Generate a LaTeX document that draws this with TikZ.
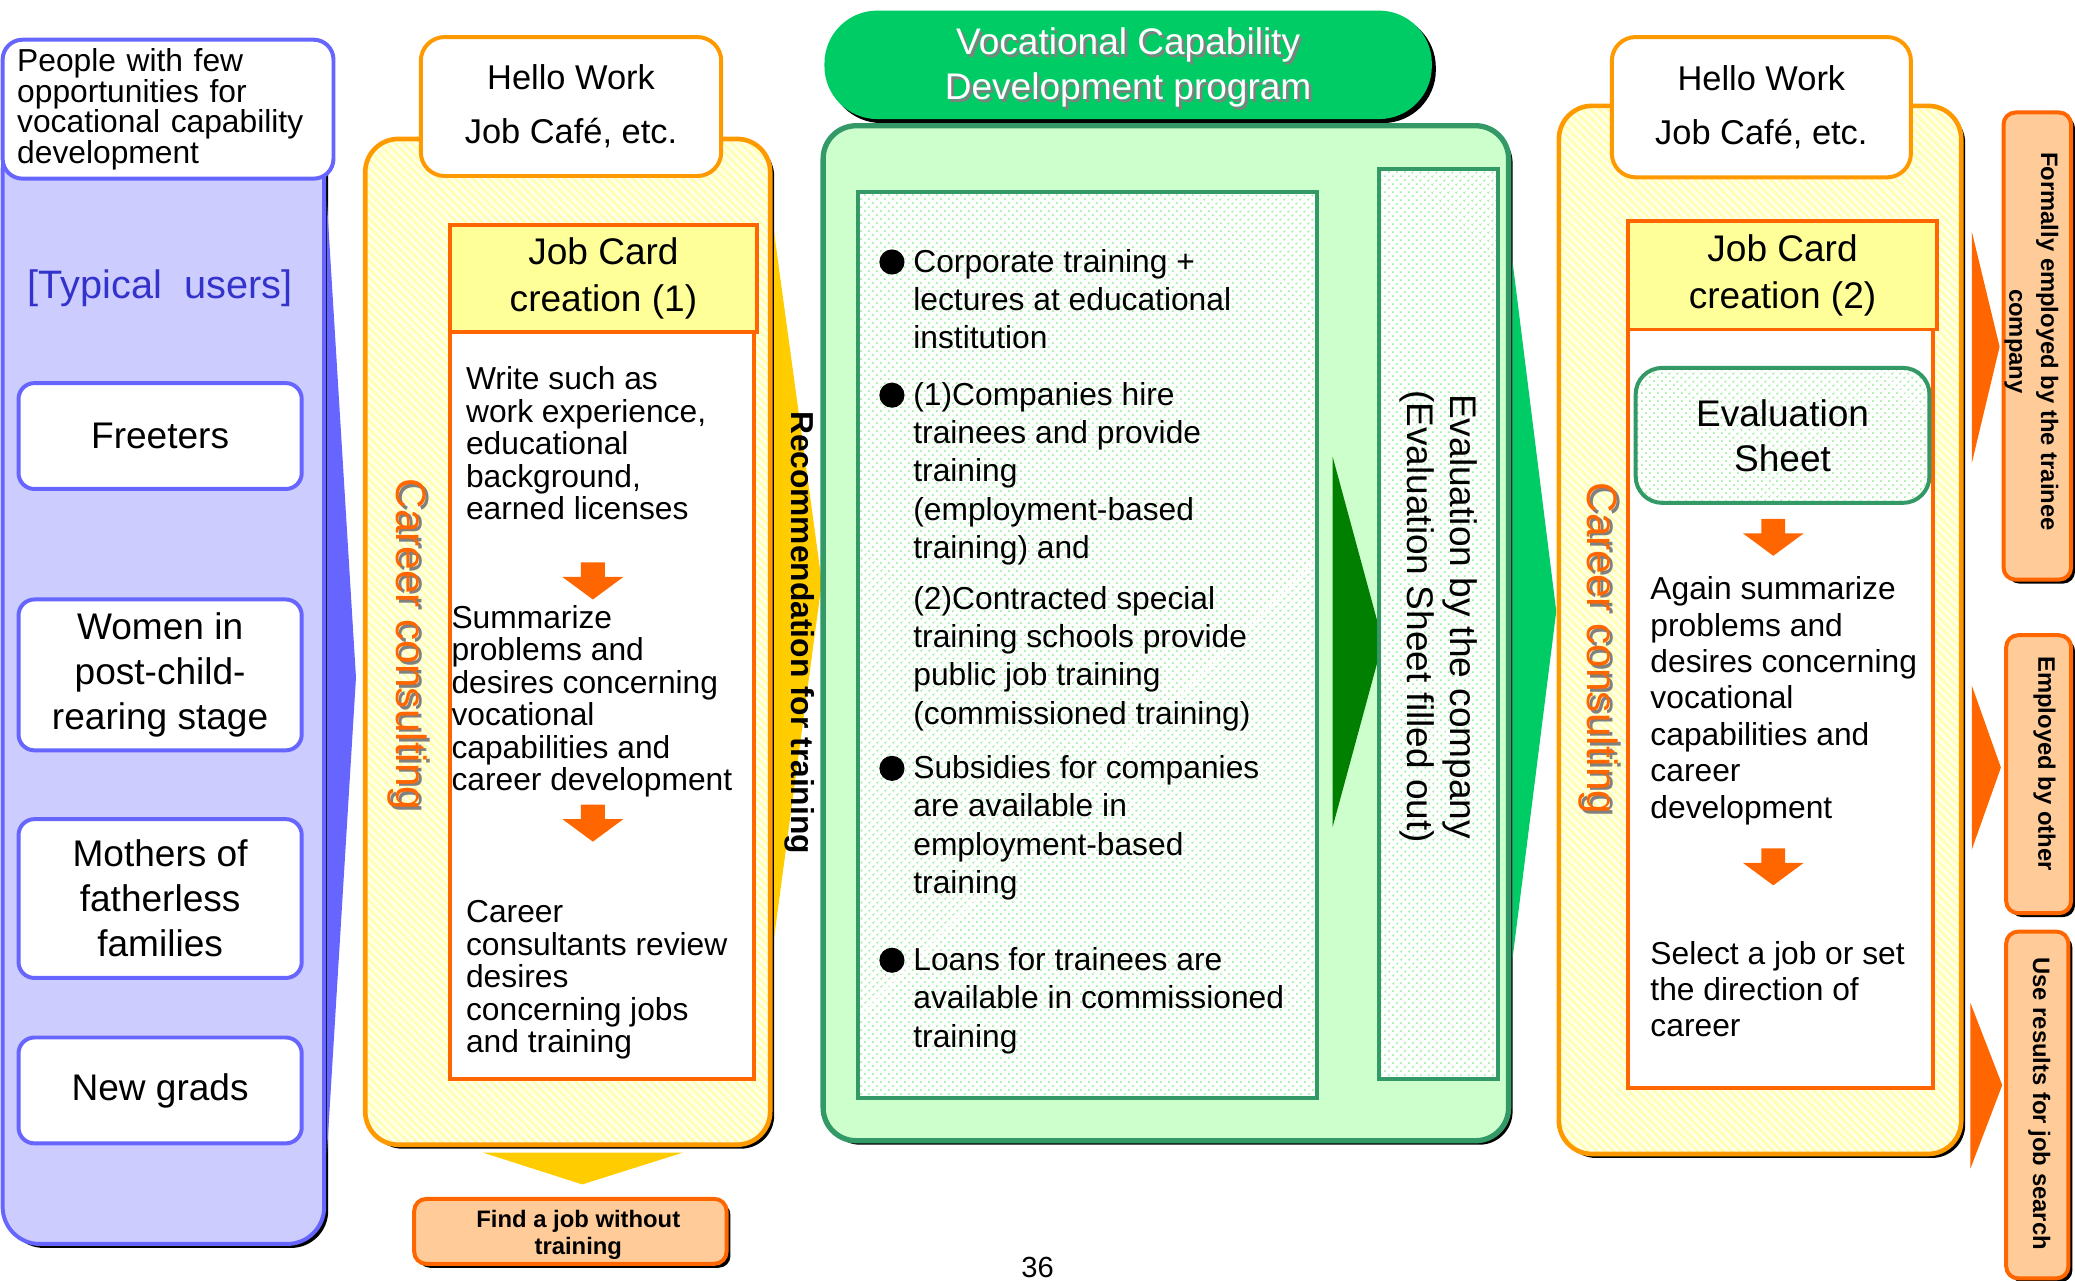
\documentclass[tikz,border=0pt]{standalone}
\usepackage{fontspec}
\setmainfont{Liberation Sans}
\usepackage{tikz}
\usetikzlibrary{shadows,patterns.meta}

\definecolor{bluefill}{HTML}{CCCCFF}
\definecolor{blueline}{HTML}{6666FF}
\definecolor{typblue}{HTML}{3333CC}
\definecolor{orline}{HTML}{FF9900}
\definecolor{cardline}{HTML}{FF6600}
\definecolor{cardfill}{HTML}{FFFF99}
\definecolor{hatchbase}{HTML}{FFFFE8}
\definecolor{hatchline}{HTML}{FFFFAA}
\definecolor{pillgreen}{HTML}{00CC66}
\definecolor{panelgreen}{HTML}{CCFFCC}
\definecolor{greenline}{HTML}{339966}
\definecolor{darkwedge}{HTML}{007F00}
\definecolor{dotgreen}{HTML}{99F099}
\definecolor{wedgeyellow}{HTML}{FFCC00}
\definecolor{peach}{HTML}{FFCC99}

\newcommand{\fs}[2]{\fontsize{#1}{#2}\selectfont}

\begin{document}
\begin{tikzpicture}[
  x=1pt, y=-1pt,
  castshadow/.style={drop shadow={shadow xshift=3pt,shadow yshift=-3pt,fill=black,opacity=1}},
  bluepanel/.style={castshadow, fill=bluefill, draw=blueline, line width=3pt, rounded corners=28pt},
  userbox/.style={draw=blueline, fill=white, line width=3pt, rounded corners=12pt,
    minimum width=214pt, inner sep=0pt, align=center, font=\fs{28}{34}},
  hatchpanel/.style={castshadow, preaction={fill=hatchbase},
    pattern={Lines[angle=-45,distance=4.5pt,line width=1.6pt]}, pattern color=hatchline,
    draw=orline, line width=3.5pt, rounded corners=25pt},
  hellobox/.style={draw=orline, fill=white, line width=3pt, rounded corners=18pt,
    inner sep=0pt, align=center, font=\fs{26}{41}},
  cardhead/.style={draw=cardline, fill=cardfill, line width=3pt, inner sep=0pt,
    align=center, font=\fs{28}{35}},
  cardbody/.style={draw=cardline, fill=white, line width=3pt},
  steptext/.style={anchor=west, align=left, inner sep=0pt},
  consult/.style={rotate=-90, text=cardline, font=\fs{32}{32}},
  dotfill/.style={preaction={fill=white},
    pattern={Dots[distance=4pt,radius=0.9pt,angle=45]}, pattern color=dotgreen},
  bullettext/.style={anchor=west, align=left, inner sep=0pt, font=\fs{24}{29}},
  resultbox/.style={castshadow, draw=cardline, fill=peach, line width=3pt,
    rounded corners=9pt, inner sep=0pt},
  resulttext/.style={rotate=-90, align=center, inner sep=0pt, font=\bfseries\fs{18}{24}},
  downarrow/.pic={\fill[cardline] (-9,0) -- (9,0) -- (9,11) -- (23,11) -- (0,28)
    -- (-23,11) -- (-9,11) -- cycle;}
]
\useasboundingbox (0,0) rectangle (1568,968);

% typical users
\draw[bluepanel] (2,100) rectangle (245,940);
\fill[blueline] (247,152) -- (269,512) -- (247,872) -- cycle;
\node[draw=blueline, fill=white, line width=3pt, rounded corners=15pt,
  minimum width=250pt, minimum height=105pt, inner sep=0pt,
  text width=228pt, align=left, font=\fs{24}{23}] (people) at (127,82.5)
  {People with few\\opportunities for\\vocational capability\\development};
\node[text=typblue, font=\fs{30}{30}] (typical) at (121,218) {[Typical\ \ users]};
\foreach \nm/\cy/\bh/\txt in {
  freeters/329.5/80/Freeters,
  women/510/114/{Women in\\post-child-\\rearing stage},
  mothers/679/120/{Mothers of\\fatherless\\families},
  newgrads/824/80/New grads}
  \node[userbox, minimum height=\bh pt] (\nm) at (121,\cy) {\txt};

% career consulting (1)
\draw[hatchpanel] (276,105) rectangle (582,865);
\node[hellobox, minimum width=227pt, minimum height=105pt] (hello1) at (431.5,80.5)
  {Hello Work\\Job Café, etc.};
\draw[cardbody] (340,251) rectangle (570,815);
\node[cardhead, minimum width=232pt, minimum height=81pt] (card1) at (456,210.5)
  {\raisebox{-3pt}{Job Card}\\\raisebox{-3pt}{creation (1)}};
\node[steptext, font=\fs{24}{24.5}] (write) at (352,335)
  {Write such as\\work experience,\\educational\\background,\\earned licenses};
\node[steptext, font=\fs{24}{24.5}] (summ1) at (341,530)
  {Summarize\\problems and\\desires concerning\\vocational\\capabilities and\\career development};
\node[steptext, font=\fs{24}{24.5}] (review) at (352,740.5)
  {Career\\consultants review\\desires\\concerning jobs\\and training};
\node[consult, text=gray] (consult1shade) at (310,489) {Career consulting};
\node[consult] (consult1) at (308,487) {Career consulting};

\fill[wedgeyellow] (585,176) -- (621,440) -- (585,708) -- cycle;
\node[rotate=-90, font=\bfseries\fs{24}{24}] (recommend) at (604,478)
  {Recommendation for training};
\fill[wedgeyellow] (365,871) -- (516,871) -- (440,895) -- cycle;
\node[resultbox, minimum width=236pt, minimum height=49pt] (nojob) at (431,930.5) {};
\node[align=center, inner sep=0pt, font=\bfseries\fs{18}{20}] (nojobtext) at (437,933)
  {Find a job without\\training};

% training program
\node[castshadow, fill=pillgreen, rounded corners=40pt, minimum width=459pt,
  minimum height=82pt] (pill) at (852.5,49) {};
\node[align=center, text=gray, font=\fs{28}{34}] (pillshade) at (854.5,53)
  {Vocational Capability\\Development program};
\node[align=center, text=white, font=\fs{28}{34}] (pilltext) at (852.5,51)
  {Vocational Capability\\Development program};
\draw[castshadow, fill=panelgreen, draw=greenline, line width=4pt, rounded corners=25pt]
  (622,95) rectangle (1140,862);
\draw[dotfill, draw=greenline, line width=3pt] (648,145) rectangle (995,830);
\foreach \nm/\ty/\txt in {
  corp/226/{Corporate training +\\lectures at educational\\institution},
  hire/358/{(1)Companies hire\\trainees and provide\\training\\(employment-based\\training) and},
  subsidy/625.5/{Subsidies for companies\\are available in\\employment-based\\training},
  loans/756/{Loans for trainees are\\available in commissioned\\training}}
  {
  \node[bullettext] (\nm) at (690,\ty) {\txt};
  \fill ([xshift=-16pt,yshift=-10pt]\nm.north west) circle[radius=9.5pt];
  }
\node[bullettext] (contract) at (690,497.5)
  {(2)Contracted special\\training schools provide\\public job training\\(commissioned training)};
\fill[darkwedge] (1007,345) -- (1045,485) -- (1007,625) -- cycle;
\draw[dotfill, draw=greenline, line width=3pt] (1042,128) rectangle (1132,815);
\node[rotate=-90, align=center, font=\fs{28}{33}] (evalcompany) at (1087,466)
  {Evaluation by the company\\(Evaluation Sheet filled out)};
\fill[pillgreen] (1143,198) -- (1176,462) -- (1143,724) -- cycle;

% career consulting (2)
\draw[hatchpanel] (1178,80) rectangle (1482,872);
\node[hellobox, minimum width=226pt, minimum height=106pt] (hello2) at (1331,81)
  {Hello Work\\Job Café, etc.};
\draw[cardbody] (1230,249) rectangle (1461,822);
\node[cardhead, minimum width=234pt, minimum height=82pt] (card2) at (1347,208)
  {Job Card\\creation (2)};
\node[dotfill, draw=greenline, line width=3pt, rounded corners=20pt,
  minimum width=222pt, minimum height=102pt, inner sep=0pt, align=center,
  font=\fs{28}{34}] (evalsheet) at (1347,329) {Evaluation\\Sheet};
\node[steptext, font=\fs{24}{27.5}] (summ2) at (1247,529.5)
  {Again summarize\\problems and\\desires concerning\\vocational\\capabilities and\\career\\development};
\node[steptext, font=\fs{24}{27.5}] (select) at (1247,747.5)
  {Select a job or set\\the direction of\\career};
\node[consult, text=gray] (consult2shade) at (1210,492) {Career consulting};
\node[consult] (consult2) at (1208,490) {Career consulting};
\foreach \ax/\ay in {448/425, 448/608, 1340/392, 1340/641}
  \pic at (\ax,\ay) {downarrow};

% results
\fill[cardline] (1490,175) -- (1511,262) -- (1490,350) -- cycle;
\fill[cardline] (1490,518) -- (1512,580) -- (1490,642) -- cycle;
\fill[cardline] (1489,758) -- (1513,820) -- (1489,883) -- cycle;
\node[resultbox, minimum width=51pt, minimum height=353pt] (formal) at (1539.5,261.5) {};
\node[resultbox, minimum width=49pt, minimum height=210pt] (other) at (1540.5,585) {};
\node[resultbox, minimum width=47pt, minimum height=262pt] (search) at (1539.5,835) {};
\node[resulttext] (formaltext) at (1535,258) {Formally employed by the trainee\\company};
\node[resulttext] (othertext) at (1545,577) {Employed by other};
\node[resulttext] (searchtext) at (1541,834) {Use results for job search};

\node[font=\fs{22}{22}, inner sep=0pt] (pagenum) at (784,958) {36};
\end{tikzpicture}
\end{document}
